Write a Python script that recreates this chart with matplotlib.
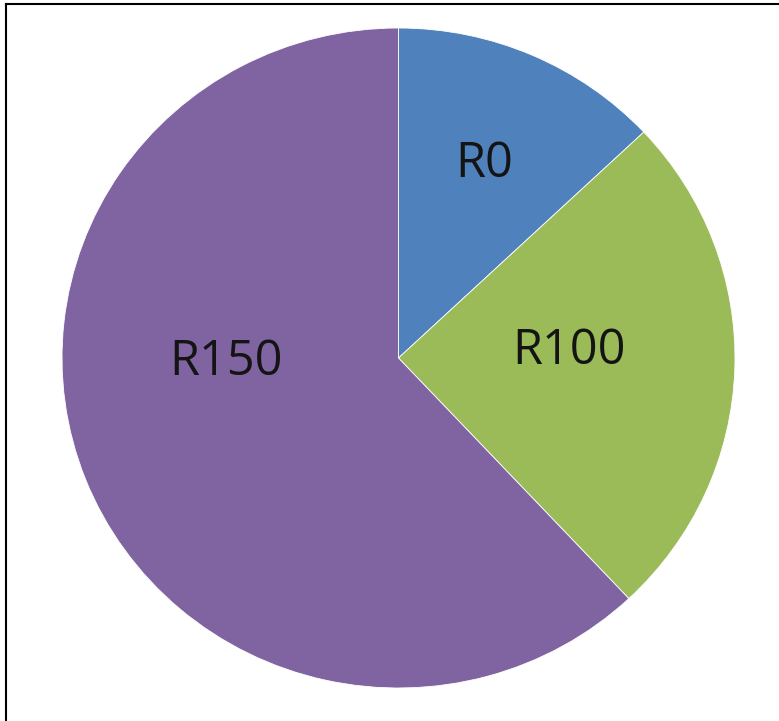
import matplotlib
matplotlib.use("Agg")
import matplotlib.pyplot as plt
import numpy as np

labels = ["R0", "R100", "R150"]
values = [13, 25, 62]
colors = ["#4F81BD", "#9BBB59", "#8064A2"]
label_radii = [0.64, 0.506, 0.514]
label_angle_shift = [0.0, 4.0, -20.2]

W, H = 779, 721
fig = plt.figure(figsize=(W / 100, H / 100), dpi=100)
ax = fig.add_axes([62 / W, 33 / H, 673 / W, 660 / H])
wedges, _ = ax.pie(values, colors=colors, startangle=90, counterclock=False,
                   radius=1, wedgeprops=dict(edgecolor="white", linewidth=0.6))
ax.set_aspect("auto")
ax.set_xlim(-1, 1)
ax.set_ylim(-1, 1)
ax.axis("off")

for w, lab, r, sh in zip(wedges, labels, label_radii, label_angle_shift):
    mid = np.deg2rad((w.theta1 + w.theta2) / 2 + sh)
    ax.text(r * np.cos(mid), r * np.sin(mid), lab, ha="center", va="center",
            fontsize=35, family=["Open Sans", "DejaVu Sans"], color="#141414")

# frame lines (left and top edges as in the reference)
fig.add_artist(plt.Line2D([6 / W, 6 / W], [0, 1 - 4 / H], color="black", lw=1.5,
                          transform=fig.transFigure))
fig.add_artist(plt.Line2D([6 / W, 1], [1 - 4 / H, 1 - 4 / H], color="black", lw=1.5,
                          transform=fig.transFigure))

fig.savefig("out.png", dpi=100)
